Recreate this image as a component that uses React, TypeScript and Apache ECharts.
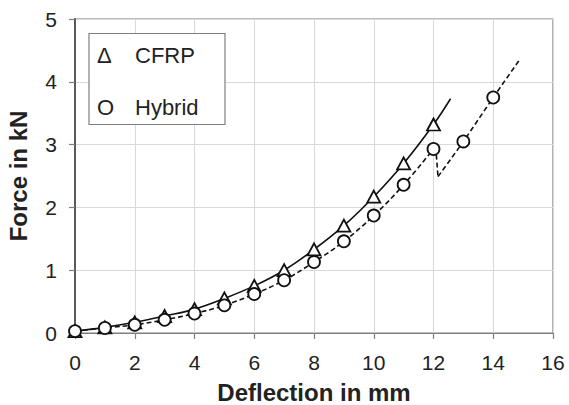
import React, { useEffect, useRef } from "react";
import * as echarts from "echarts";

// CFRP (triangles, solid line)
const cfrpX = [0, 1, 2, 3, 4, 5, 6, 7, 8, 9, 10, 11, 12];
const cfrpY = [0.03, 0.09, 0.17, 0.27, 0.38, 0.55, 0.75, 1.0, 1.33, 1.71, 2.17, 2.7, 3.32];
// end of the CFRP measured curve (beyond last marker)
const cfrpCurveEnd = [12.57, 3.73];

// Hybrid (circles, dashed line)
const hybX = [0, 1, 2, 3, 4, 5, 6, 7, 8, 9, 10, 11, 12, 13, 14];
const hybY = [0.03, 0.08, 0.13, 0.21, 0.31, 0.44, 0.62, 0.84, 1.13, 1.46, 1.87, 2.36, 2.93, 3.05, 3.75];
// load drop after first failure and curve end
const hybDropX = [12.08, 12.15];
const hybDropY = [2.93, 2.49];
const hybCurveEnd = [14.88, 4.35];

const xTicks = { min: 0, max: 16, interval: 2 };
const yTicks = { min: 0, max: 5, interval: 1 };

const legendItems = [
  { sym: "Δ", label: "CFRP" },
  { sym: "O", label: "Hybrid" },
];

const FONT = "'Liberation Sans', Arial, Helvetica, sans-serif";
const TXT = "#222222";

export default function App() {
  const ref = useRef<HTMLDivElement>(null);
  useEffect(() => {
    if (!ref.current) return;
    const chart = echarts.init(ref.current, undefined, { renderer: "svg" });

    const cfrpPts = cfrpX.map((x, i) => [x, cfrpY[i]]);
    const hybPts = hybX.map((x, i) => [x, hybY[i]]);
    const idx12 = hybX.indexOf(12);
    const hybPartA = hybPts.slice(0, idx12 + 1);
    const hybDrop = [hybPts[idx12], ...hybDropX.map((x, i) => [x, hybDropY[i]])];
    const hybPartB = [
      [hybDropX[hybDropX.length - 1], hybDropY[hybDropY.length - 1]],
      ...hybPts.slice(idx12 + 1),
      hybCurveEnd,
    ];

    const solid = { color: "#111", width: 1.6, type: "solid" as const };
    const dashed = { color: "#111", width: 1.6, type: [5, 3] as any };

    chart.setOption({
      animation: false,
      backgroundColor: "#ffffff",
      textStyle: { fontFamily: FONT },
      grid: {
        left: 75,
        right: 16,
        top: 19,
        bottom: 72,
        show: true,
        borderColor: "#7f7f7f",
        borderWidth: 1.2,
        containLabel: false,
        outerBoundsMode: "none",
      },
      xAxis: {
        type: "value",
        ...xTicks,
        name: "Deflection in mm",
        nameLocation: "middle",
        nameGap: 47,
        nameTextStyle: { fontSize: 24, fontWeight: "bold", color: TXT, fontFamily: FONT },
        axisLine: { show: true, onZero: false, lineStyle: { color: "#7f7f7f", width: 1.2 } },
        axisTick: { show: true, length: 6, lineStyle: { color: "#7f7f7f", width: 1.2 } },
        axisLabel: { fontSize: 21, color: TXT, margin: 19, fontFamily: FONT },
        splitLine: { show: true, lineStyle: { color: "#d9d9d9", width: 1 } },
      },
      yAxis: {
        type: "value",
        ...yTicks,
        name: "Force in kN",
        nameLocation: "middle",
        nameGap: 45,
        nameTextStyle: { fontSize: 24, fontWeight: "bold", color: TXT, fontFamily: FONT },
        axisLine: { show: true, onZero: false, lineStyle: { color: "#595959", width: 2 } },
        axisTick: { show: true, length: 6, lineStyle: { color: "#7f7f7f", width: 1.2 } },
        axisLabel: { fontSize: 21, color: TXT, margin: 18, fontFamily: FONT },
        splitLine: { show: true, lineStyle: { color: "#d9d9d9", width: 1 } },
      },
      series: [
        {
          type: "line",
          data: [...cfrpPts, cfrpCurveEnd],
          smooth: 0.4,
          showSymbol: false,
          symbol: "none",
          lineStyle: solid,
          z: 3,
        },
        {
          type: "line",
          data: hybPartA,
          smooth: 0.4,
          symbol: "none",
          lineStyle: dashed,
          z: 3,
        },
        {
          type: "line",
          data: hybDrop,
          smooth: false,
          symbol: "none",
          lineStyle: dashed,
          z: 3,
        },
        {
          type: "line",
          data: hybPartB,
          smooth: 0.3,
          symbol: "none",
          lineStyle: dashed,
          z: 3,
        },
        {
          type: "scatter",
          data: cfrpPts,
          symbol: "triangle",
          symbolSize: [13, 12],
          itemStyle: { color: "#ffffff", borderColor: "#111", borderWidth: 1.8, opacity: 1 },
          z: 5,
        },
        {
          type: "scatter",
          data: hybPts,
          symbol: "circle",
          symbolSize: 12,
          itemStyle: { color: "#ffffff", borderColor: "#111", borderWidth: 1.8, opacity: 1 },
          z: 6,
        },
      ],
      graphic: [
        {
          type: "rect",
          shape: { x: 89, y: 33.5, width: 136, height: 91 },
          style: { fill: "#ffffff", stroke: "#7f7f7f", lineWidth: 1.2 },
          z: 10,
        },
        ...legendItems.flatMap((it, i) => [
          {
            type: "text",
            x: 97,
            y: 55 + i * 52,
            style: {
              text: it.sym,
              fontSize: 22,
              fontFamily: FONT,
              fill: TXT,
              verticalAlign: "middle",
              align: "left",
            },
            z: 11,
          },
          {
            type: "text",
            x: 135,
            y: 55 + i * 52,
            style: {
              text: it.label,
              fontSize: 22,
              fontFamily: FONT,
              fill: TXT,
              verticalAlign: "middle",
              align: "left",
            },
            z: 11,
          },
        ]),
      ],
    });
    return () => chart.dispose();
  }, []);
  return (
    <div
      ref={ref}
      style={{ position: "fixed", left: 0, top: 0, width: 569, height: 405, background: "#fff" }}
    />
  );
}
